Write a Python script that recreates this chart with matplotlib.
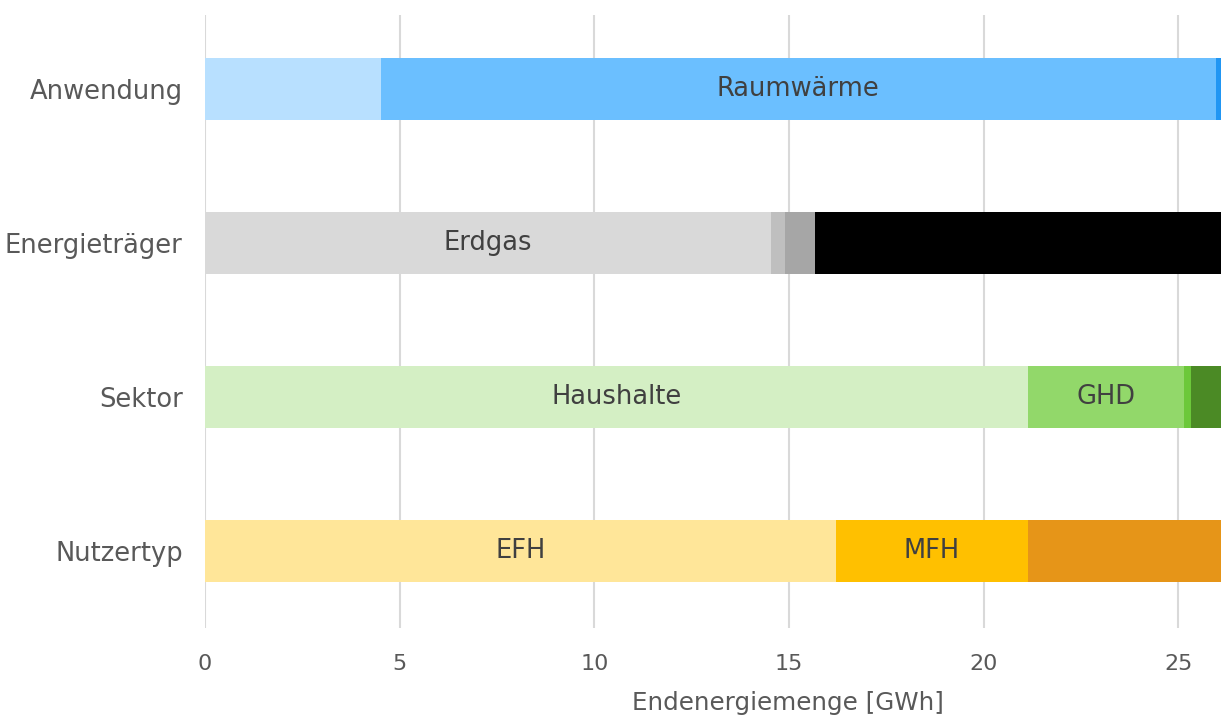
import matplotlib
matplotlib.use('Agg')
import matplotlib.pyplot as plt
import numpy as np

# categories (top to bottom)
categories = ['Anwendung', 'Energieträger', 'Sektor', 'Nutzertyp']

# segments per bar: (label, value, colour)
anwendung_vals = [4.52, 21.44, 0.54]
anwendung_labels = ['', 'Raumwärme', '']
anwendung_cols = ['#b8e0ff', '#6bbfff', '#2196f3']

traeger_vals = [14.55, 0.36, 0.77, 10.82]
traeger_labels = ['Erdgas', '', '', '']
traeger_cols = ['#d9d9d9', '#bfbfbf', '#a6a6a6', '#000000']

sektor_vals = [21.13, 4.01, 0.18, 1.18]
sektor_labels = ['Haushalte', 'GHD', '', '']
sektor_cols = ['#d4efc4', '#92d86a', '#6cc83a', '#4b8a25']

nutzer_vals = [16.22, 4.91, 5.37]
nutzer_labels = ['EFH', 'MFH', '']
nutzer_cols = ['#ffe699', '#ffc000', '#e69518']

rows = [
    (anwendung_vals, anwendung_labels, anwendung_cols),
    (traeger_vals, traeger_labels, traeger_cols),
    (sektor_vals, sektor_labels, sektor_cols),
    (nutzer_vals, nutzer_labels, nutzer_cols),
]

xticks = [0, 5, 10, 15, 20, 25]

fig = plt.figure(figsize=(12.21, 7.15), dpi=100)
ax = fig.add_axes([0.1679, 0.1217, 0.8321, 0.8573])

for i, (vals, labels, cols) in enumerate(rows):
    left = 0
    for v, lab, c in zip(vals, labels, cols):
        ax.barh(i, v, left=left, height=0.4, color=c, linewidth=0, zorder=3)
        if lab:
            ax.text(left + v / 2, i, lab, ha='center', va='center',
                    fontsize=18.5, color='#404040', zorder=4)
        left += v

ax.set_xlim(0, 26.1)
ax.set_ylim(3.5, -0.48)
ax.set_yticks(range(len(categories)))
ax.set_yticklabels(categories, fontsize=18.5, color='#595959')
ax.set_xticks(xticks)
ax.set_xticklabels([str(t) for t in xticks], fontsize=16, color='#595959')
ax.tick_params(axis='y', length=0, pad=16)
ax.tick_params(axis='x', length=0, pad=19)
ax.grid(axis='x', color='#d9d9d9', linewidth=1.5, zorder=0)
for s in ax.spines.values():
    s.set_visible(False)

ax.set_xlabel('Endenergiemenge [GWh]', fontsize=17.7, color='#595959')
ax.xaxis.set_label_coords(0.574, -0.122)
ax.xaxis.label.set_va('center')

plt.savefig('out.png', dpi=100)
